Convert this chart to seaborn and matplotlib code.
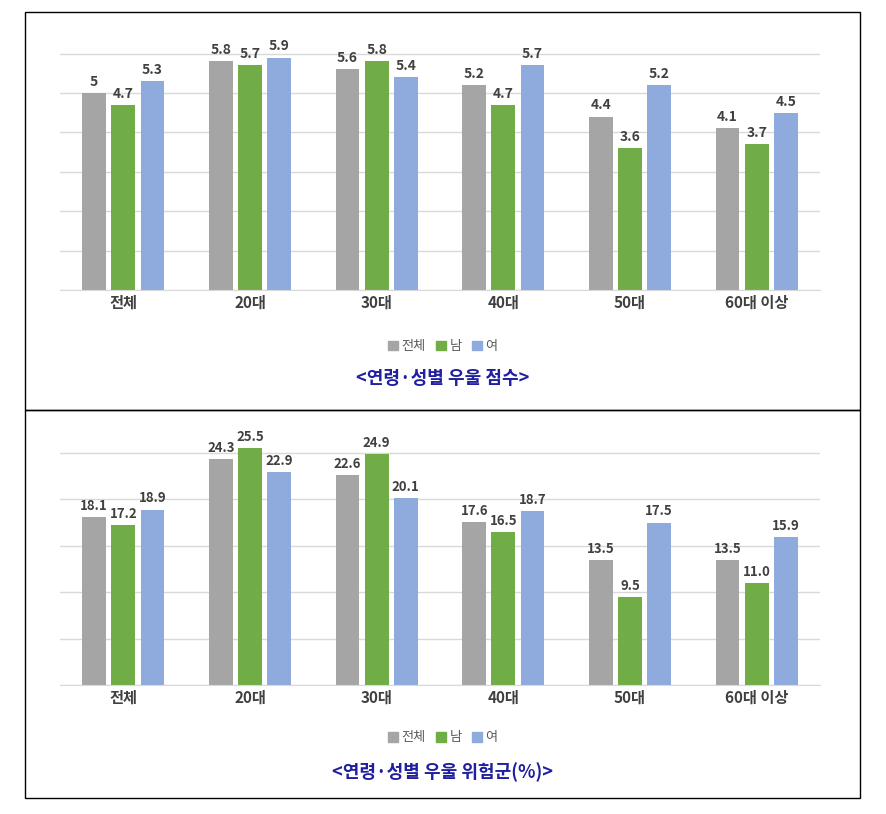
import matplotlib
matplotlib.use("Agg")
import matplotlib.pyplot as plt
import seaborn as sns
import pandas as pd
from matplotlib.patches import Rectangle

plt.rcParams["font.family"] = ["Noto Sans CJK KR", "Noto Sans CJK JP", "Noto Sans CJK SC", "DejaVu Sans"]

categories = ["전체", "20대", "30대", "40대", "50대", "60대 이상"]
hues = ["전체", "남", "여"]
score_all = [5.0, 5.8, 5.6, 5.2, 4.4, 4.1]
score_m = [4.7, 5.7, 5.8, 4.7, 3.6, 3.7]
score_f = [5.3, 5.9, 5.4, 5.7, 5.2, 4.5]
risk_all = [18.1, 24.3, 22.6, 17.6, 13.5, 13.5]
risk_m = [17.2, 25.5, 24.9, 16.5, 9.5, 11.0]
risk_f = [18.9, 22.9, 20.1, 18.7, 17.5, 15.9]
colors = ["#A5A5A5", "#70AD47", "#8FAADC"]

W, H = 886, 814
fig = plt.figure(figsize=(W/100, H/100), dpi=100)

def frame(x0, y0, x1, y1):
    fig.patches.append(Rectangle((x0/W, 1-y1/H), (x1-x0)/W, (y1-y0)/H,
                                 transform=fig.transFigure, fill=False,
                                 edgecolor="black", linewidth=1))

frame(25, 12, 860, 410)
frame(25, 410, 860, 798)

def panel(vals, top_px, base_px, ymax, step, fmt, title, title_y, leg_y, fs):
    h_px = base_px - top_px
    ax = fig.add_axes([60/W, 1-base_px/H, 760/W, h_px/H])
    df = pd.DataFrame({"cat": categories*3,
                       "hue": sum([[h]*6 for h in hues], []),
                       "val": vals[0]+vals[1]+vals[2]})
    sns.barplot(data=df, x="cat", y="val", hue="hue", palette=colors,
                width=0.69, gap=0.18, saturation=1, ax=ax, legend=False)
    ax.set_ylim(0, ymax)
    ax.set_yticks([step*i for i in range(int(ymax/step)+1)])
    ax.set_yticklabels([])
    ax.tick_params(left=False, bottom=False, length=0)
    ax.yaxis.grid(True, color="#D9D9D9", linewidth=1)
    ax.set_axisbelow(True)
    for s in ax.spines.values():
        s.set_visible(False)
    ax.spines["bottom"].set_visible(True)
    ax.spines["bottom"].set_color("#D9D9D9")
    ax.set_xlabel(""); ax.set_ylabel("")
    ax.set_xticks(range(6))
    ax.set_xticklabels(categories, fontsize=11, fontweight="bold", color="#404040")
    for c in ax.containers:
        ax.bar_label(c, labels=[fmt(v) for v in c.datavalues], padding=3,
                     fontsize=fs, fontweight="bold", color="#404040")
    handles = [Rectangle((0, 0), 1, 1, color=c) for c in colors]
    fig.legend(handles, hues, loc="center", bbox_to_anchor=(0.5, 1-leg_y/H),
               ncol=3, frameon=False, fontsize=9.5, handlelength=0.7,
               handleheight=0.7, columnspacing=0.8, handletextpad=0.3,
               labelcolor="#595959")
    fig.text(0.5, 1-title_y/H, title, ha="center", va="center", fontsize=13,
             fontweight="bold", color="#1F1FA0")

panel([score_all, score_m, score_f], 290-6.1*39.4, 290, 6.1, 1,
      lambda v: f"{v:g}", "<연령·성별 우울 점수>", 378, 347, 10)
panel([risk_all, risk_m, risk_f], 685-25.6*9.28, 685, 25.6, 5,
      lambda v: f"{v:.1f}", "<연령·성별 우울 위험군(%)>", 772, 738, 9.5)

fig.savefig("out.png", dpi=100)
